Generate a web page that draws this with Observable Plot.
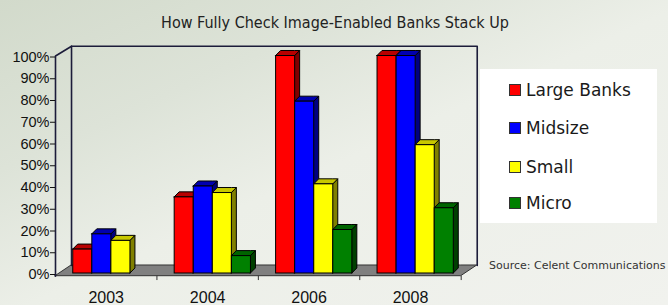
<!DOCTYPE html>
<html>
<head>
<meta charset="utf-8">
<script src="https://cdn.jsdelivr.net/npm/d3@7"></script>
<script src="https://cdn.jsdelivr.net/npm/@observablehq/plot@0.6"></script>
<style>
  html, body { margin: 0; padding: 0; }
  #wrap {
    position: relative; width: 668px; height: 305px; overflow: hidden;
    background: linear-gradient(to bottom right, #d2dacb 0%, #dde3d8 28%, #ecefe8 52%, #f1f2ee 100%);
    font-family: "DejaVu Sans", sans-serif;
  }
  #title {
    height: 36px; line-height: 46px; text-align: center;
    font-family: "DejaVu Sans Condensed", "DejaVu Sans", sans-serif;
    font-size: 16px; color: #222; box-sizing: border-box;
    width: 668px; padding-left: 2px;
  }
  #legend {
    position: absolute; left: 480px; top: 69px; width: 177px; height: 154px; background: #fff;
  }
  .item { position: absolute; left: 29px; height: 20px; display: flex; align-items: center; }
  .sw { width: 10px; height: 10px; border: 1px solid #333; margin-right: 5px; }
  .lab { font-size: 17px; color: #1a1a1a; font-family: "DejaVu Sans", sans-serif; }
  #source { position: absolute; left: 489px; top: 259px; font-size: 11px; color: #333; white-space: nowrap; }
  #chart { position: absolute; left: 0; top: 36px; }
</style>
</head>
<body>
<div id="wrap">
  <div id="title"></div>
  <div id="chart"></div>
  <div id="legend"></div>
  <div id="source"></div>
</div>
<script>
// ---- data ----
const chartTitle = "How Fully Check Image-Enabled Banks Stack Up";
const sourceNote = "Source: Celent Communications";
const years = ["2003", "2004", "2006", "2008"];
const seriesNames = ["Large Banks", "Midsize", "Small", "Micro"];
const largeBanks = [11, 35, 100, 100];
const midsize = [18, 40, 79, 100];
const small = [15, 37, 41, 59];
const micro = [0, 8, 20, 30];
const yTicks = [0, 10, 20, 30, 40, 50, 60, 70, 80, 90, 100];

// ---- styles ----
const frontColors = ["#ff0000", "#0000ff", "#ffff00", "#008000"];
const topColors = ["#b80000", "#0000b0", "#c8c800", "#006400"];
const sideColors = ["#800000", "#000080", "#808000", "#004000"];

// 3D geometry (in scale units)
const GROUP_OFF = 0.175, BAR_W = 0.188;   // bar placement inside each category
const BX = 0.049, BY = 2.3;               // bar depth
const DX = 0.158;                         // box depth (x)
const FLOOR_FRONT = -1.24, FLOOR_BACK = 3.68, WALL_TOP = 104.5;

const values = [largeBanks, midsize, small, micro];
const bars = [];
years.forEach((yr, i) => {
  values.forEach((arr, j) => {
    const v = arr[i];
    if (v > 0) {
      const x0 = i + GROUP_OFF + j * BAR_W;
      bars.push({id: yr + "-" + j, year: yr, series: seriesNames[j], j, v, x0, x1: x0 + BAR_W});
    }
  });
});
const tops = bars.flatMap(b => [
  {id: b.id, j: b.j, x: b.x0, lo: b.v, hi: b.v},
  {id: b.id, j: b.j, x: b.x0 + BX, lo: b.v, hi: b.v + BY},
  {id: b.id, j: b.j, x: b.x1, lo: b.v, hi: b.v + BY},
  {id: b.id, j: b.j, x: b.x1 + BX, lo: b.v + BY, hi: b.v + BY}
]);
const sides = bars.flatMap(b => [
  {id: b.id, j: b.j, x: b.x1, lo: 0, hi: b.v},
  {id: b.id, j: b.j, x: b.x1 + BX, lo: BY, hi: b.v + BY}
]);
const nCat = years.length;
const floor = [
  {x: 0, lo: FLOOR_FRONT, hi: FLOOR_FRONT},
  {x: DX, lo: FLOOR_FRONT, hi: FLOOR_BACK},
  {x: nCat, lo: FLOOR_FRONT, hi: FLOOR_BACK},
  {x: nCat + DX, lo: FLOOR_BACK, hi: FLOOR_BACK}
];
const wall = [
  {x: DX, y: FLOOR_BACK}, {x: DX, y: WALL_TOP}, {x: nCat + DX, y: WALL_TOP}, {x: nCat + DX, y: FLOOR_BACK}
];
const leftEdge = [{x: 0, y: FLOOR_FRONT}, {x: 0, y: 100}, {x: DX, y: WALL_TOP}];

const plot = Plot.plot({
  width: 668, height: 269,
  marginLeft: 55, marginRight: 207.3, marginTop: 19.5, marginBottom: 32,
  style: {background: "transparent", overflow: "visible"},
  x: {type: "linear", domain: [0, nCat]},
  y: {domain: [0, 100]},
  color: {type: "identity"},
  marks: [
    Plot.areaY(floor, {x: "x", y1: "lo", y2: "hi", fill: "#808080", stroke: "#333", strokeWidth: 1}),
    Plot.line(wall, {x: "x", y: "y", stroke: "#1c1c3a", strokeWidth: 1.6}),
    Plot.line(leftEdge, {x: "x", y: "y", stroke: "#1c1c3a", strokeWidth: 1.6}),
    Plot.ruleX(d3.range(1, nCat + 1), {y1: FLOOR_FRONT, y2: FLOOR_FRONT - 2, stroke: "#333", strokeWidth: 1}),
    Plot.areaY(sides, {x: "x", y1: "lo", y2: "hi", z: "id", fill: d => sideColors[d.j], stroke: "black", strokeWidth: 1, strokeLinejoin: "miter"}),
    Plot.areaY(tops, {x: "x", y1: "lo", y2: "hi", z: "id", fill: d => topColors[d.j], stroke: "black", strokeWidth: 1, strokeLinejoin: "miter"}),
    Plot.rect(bars, {x1: "x0", x2: "x1", y1: 0, y2: "v", fill: d => frontColors[d.j], stroke: "black", strokeWidth: 1}),
    Plot.axisY({ticks: yTicks, tickFormat: d => d + "%", tickSize: 5, tickPadding: 1, dy: 1,
      fontSize: 14.5, fontFamily: "Liberation Sans, Arial, sans-serif", fill: "#111", label: null, color: "#111"}),
    Plot.axisX({ticks: years.map((_, i) => i + 0.5), tickFormat: (d) => years[Math.floor(d)], tickSize: 0, tickPadding: 18,
      fontSize: 16, fontFamily: "Liberation Sans, Arial, sans-serif", fill: "#111", label: null})
  ]
});
document.getElementById("chart").appendChild(plot);
document.getElementById("title").textContent = chartTitle;
document.getElementById("source").textContent = sourceNote;

const legend = document.getElementById("legend");
const centers = [21, 58.7, 97.7, 134];
seriesNames.forEach((name, j) => {
  const it = document.createElement("div");
  it.className = "item";
  it.style.top = (centers[j] - 10) + "px";
  const sw = document.createElement("div");
  sw.className = "sw";
  sw.style.background = frontColors[j];
  const lab = document.createElement("span");
  lab.className = "lab";
  lab.textContent = name;
  it.appendChild(sw); it.appendChild(lab);
  legend.appendChild(it);
});
</script>
</body>
</html>
